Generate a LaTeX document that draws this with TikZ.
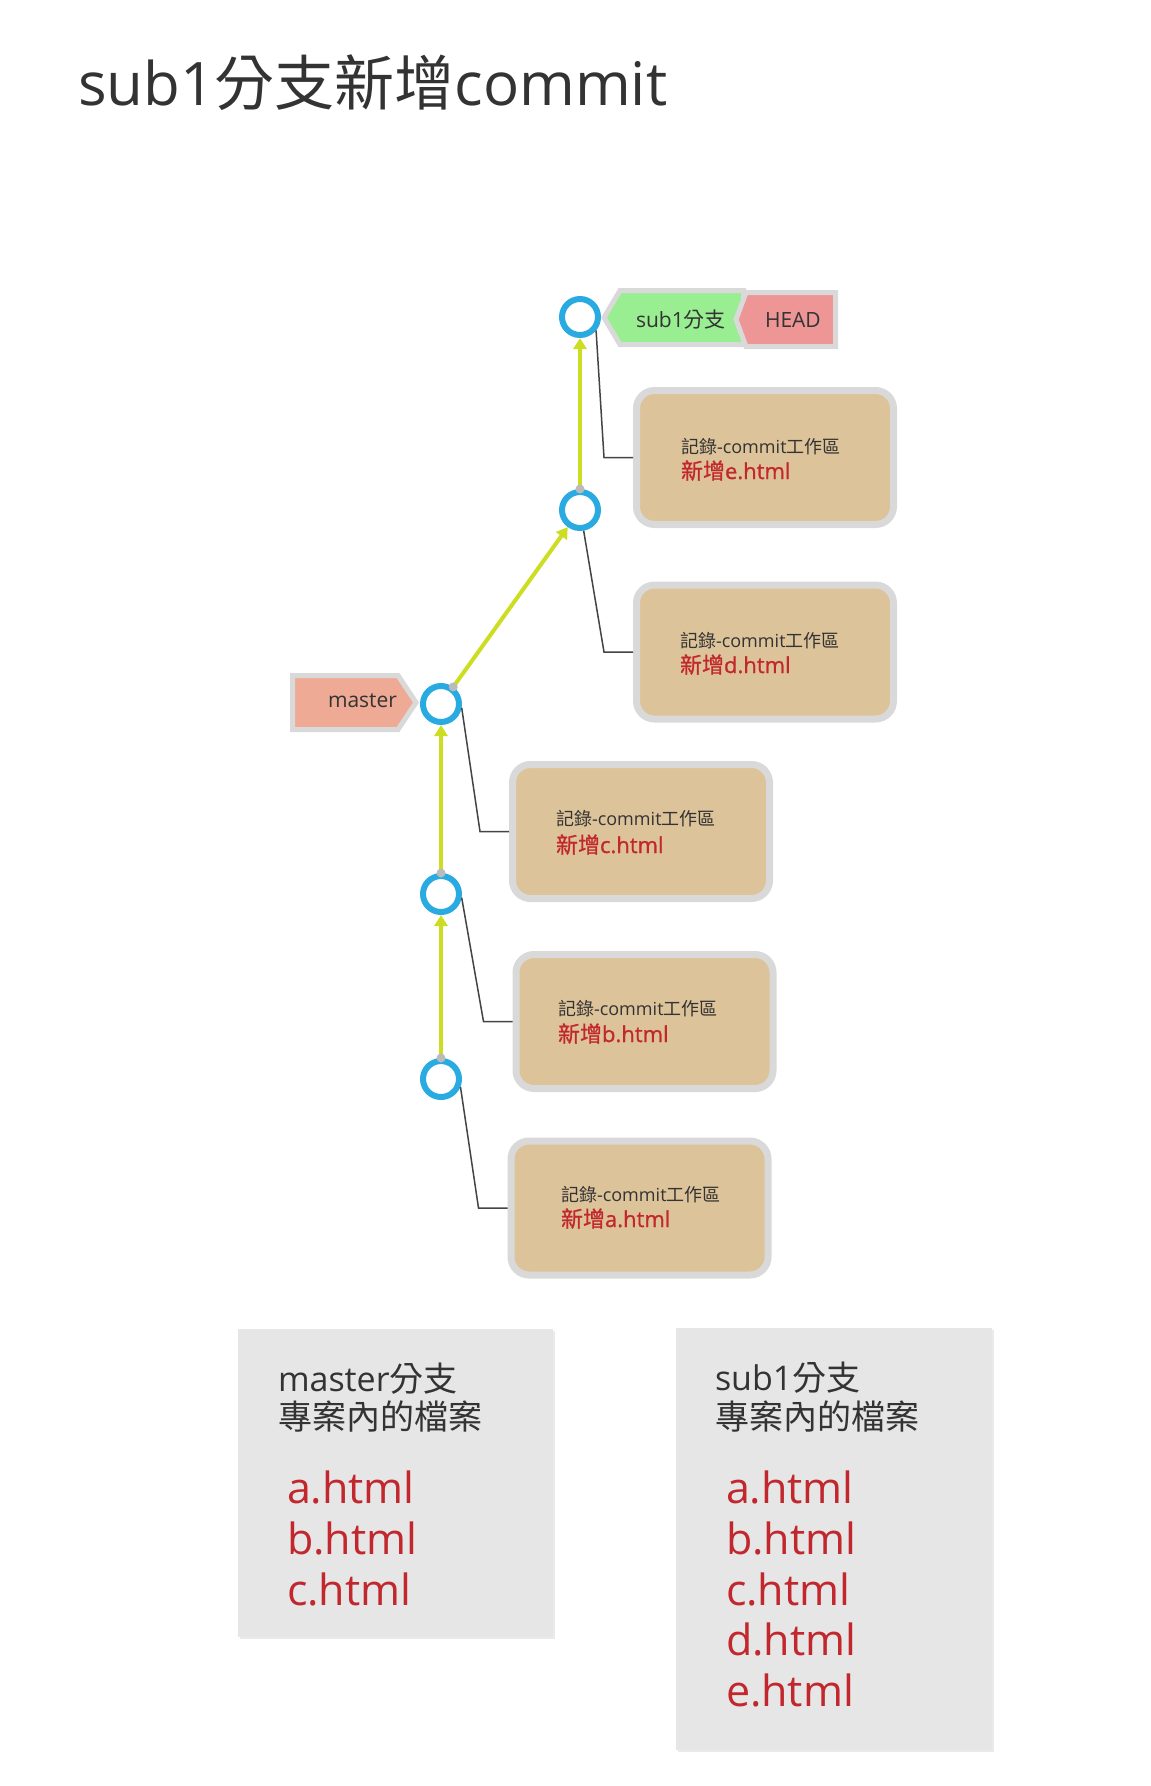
\documentclass[tikz,border=0pt]{standalone}
\usepackage{fontspec}
\setmainfont{Open Sans}
\newfontfamily\cjkfont{Noto Sans CJK TC}
\newfontfamily\osfb{Open Sans}[FakeBold=0.9]
\newfontfamily\cjkfb{Noto Sans CJK TC}[FakeBold=0.9]
\newcommand{\zhtw}[1]{{\cjkfont #1}}
\newcommand{\zhtwb}[1]{{\cjkfb #1}}
\usetikzlibrary{arrows.meta,calc,shadows}
\definecolor{cblue}{HTML}{29ABE2}
\definecolor{cgreen}{HTML}{CCDD22}
\definecolor{dotgray}{HTML}{BBBBBB}
\definecolor{boxtan}{HTML}{DDC39A}
\definecolor{bordergray}{HTML}{D9D9D9}
\definecolor{fred}{HTML}{C1272D}
\definecolor{dtext}{HTML}{333333}
\definecolor{linkgray}{HTML}{444444}
\definecolor{taggreen}{HTML}{99EE91}
\definecolor{taghead}{HTML}{EE9595}
\definecolor{tagmaster}{HTML}{EEAA95}
\definecolor{panelgray}{HTML}{E6E6E6}
\begin{document}
\begin{tikzpicture}[x=1pt,y=-1pt,
  every node/.style={inner sep=0pt, outer sep=0pt, text=dtext},
  commit/.style={circle, draw=cblue, line width=6pt, fill=white, minimum size=36pt, outer sep=3pt},
  flow/.style={draw=cgreen, line width=4pt, -{Triangle[length=11pt,width=13pt]}},
  link/.style={draw=linkgray, line width=1.5pt},
  box/.style={draw=bordergray, fill=boxtan, line width=7pt, rounded corners=18pt, minimum width=257pt, minimum height=134pt, outer sep=3.5pt},
  tagshape/.style={draw=bordergray, line width=5pt},
  taglabel/.style={anchor=base west, font=\fontsize{21}{25}\selectfont},
  boxhead/.style={anchor=base west, font=\fontsize{18}{22}\selectfont},
  boxfile/.style={anchor=base west, text=fred, font=\fontsize{22}{26}\osfb},
  panel/.style={fill=panelgray, drop shadow={shadow xshift=2pt, shadow yshift=-2pt, opacity=0.2, fill=black!40}},
  panelhead/.style={anchor=base west, font=\fontsize{34}{40}\selectfont},
  panelfile/.style={anchor=base west, text=fred, font=\fontsize{43}{50}\selectfont}]
\useasboundingbox (0,0) rectangle (1151,1786);
\fill[white] (0,0) rectangle (1151,1786);

% title
\node[anchor=base west, font=\fontsize{60}{72}\selectfont] (title) at (78,105) {sub1\zhtw{分支新增}commit};

% commit boxes
\node[box] (ebox) at (765,457.5) {};
\node[box] (dbox) at (765,652) {};
\node[box] (cbox) at (641,831.5) {};
\node[box] (bbox) at (644.5,1021.5) {};
\node[box] (abox) at (639.5,1208) {};

\node[boxhead] (eh) at (681,453) {\zhtw{記錄}-commit\zhtw{工作區}};
\node[boxfile] (ef) at (681,479) {\zhtwb{新增}e.html};
\node[boxhead] (dh) at (680,647) {\zhtw{記錄}-commit\zhtw{工作區}};
\node[boxfile] (df) at (680,673) {\zhtwb{新增}d.html};
\node[boxhead] (ch) at (556,825) {\zhtw{記錄}-commit\zhtw{工作區}};
\node[boxfile] (cf) at (556,853) {\zhtwb{新增}c.html};
\node[boxhead] (bh) at (558,1015) {\zhtw{記錄}-commit\zhtw{工作區}};
\node[boxfile] (bf) at (558,1042) {\zhtwb{新增}b.html};
\node[boxhead] (ah) at (561,1201) {\zhtw{記錄}-commit\zhtw{工作區}};
\node[boxfile] (af) at (561,1227) {\zhtwb{新增}a.html};

% commits
\node[commit] (c5) at (580,317) {};
\node[commit] (c4) at (580,510) {};
\node[commit] (c3) at (441,704) {};
\node[commit] (c2) at (441,894) {};
\node[commit] (c1) at (441,1079) {};

% links commit -> box
\draw[link] (c5.-40) -- ($(ebox.west)+(-29,0)$) -- (ebox.west);
\draw[link] (c4.-80) -- ($(dbox.west)+(-29,0)$) -- (dbox.west);
\draw[link] (c3.-10) -- ($(cbox.west)+(-29,0)$) -- (cbox.west);
\draw[link] (c2.-10) -- ($(bbox.west)+(-29,0)$) -- (bbox.west);
\draw[link] (c1.-22) -- ($(abox.west)+(-29,0)$) -- (abox.west);

% history arrows
\draw[flow] (c1.north) -- (c2.south);
\draw[flow] (c2.north) -- (c3.south);
\draw[flow] (c3) -- (c4);
\draw[flow] (c4.north) -- (c5.south);
\fill[dotgray] (c1.north) circle (4.5pt);
\fill[dotgray] (c2.north) circle (4.5pt);
\fill[dotgray] ($(c3)!21pt!(c4)$) circle (4.5pt);
\fill[dotgray] (c4.north) circle (4.5pt);

% tags
\path[tagshape, fill=taggreen] (604,317.5) -- (620,290.5) -- (743.5,290.5) -- (743.5,344.5) -- (620,344.5) -- cycle;
\path[tagshape, fill=taghead] (736,319.5) -- (746,292.5) -- (835.5,292.5) -- (835.5,346.5) -- (746,346.5) -- cycle;
\path[tagshape, fill=tagmaster] (292.5,675.5) -- (398,675.5) -- (416,702.5) -- (398,729.5) -- (292.5,729.5) -- cycle;
\node[taglabel] (sub1label) at (636,327) {sub1\zhtw{分支}};
\node[taglabel] (headlabel) at (765,327) {HEAD};
\node[taglabel] (masterlabel) at (328,707) {master};

% panels
\node[panel, minimum width=315pt, minimum height=308pt] (mpanel) at (395.5,1483) {};
\node[panel, minimum width=316pt, minimum height=422pt] (spanel) at (834,1539) {};

\node[panelhead] (mp1) at (278,1391) {master\zhtw{分支}};
\node[panelhead] (mp2) at (278,1429) {\zhtw{專案內的檔案}};
\node[panelfile] (mfa) at (287,1503) {a.html};
\node[panelfile] (mfb) at (287,1554) {b.html};
\node[panelfile] (mfc) at (287,1605) {c.html};

\node[panelhead] (sp1) at (715,1390) {sub1\zhtw{分支}};
\node[panelhead] (sp2) at (715,1429) {\zhtw{專案內的檔案}};
\node[panelfile] (sfa) at (726,1503) {a.html};
\node[panelfile] (sfb) at (726,1554) {b.html};
\node[panelfile] (sfc) at (726,1605) {c.html};
\node[panelfile] (sfd) at (726,1655) {d.html};
\node[panelfile] (sfe) at (726,1706) {e.html};
\end{tikzpicture}
\end{document}
